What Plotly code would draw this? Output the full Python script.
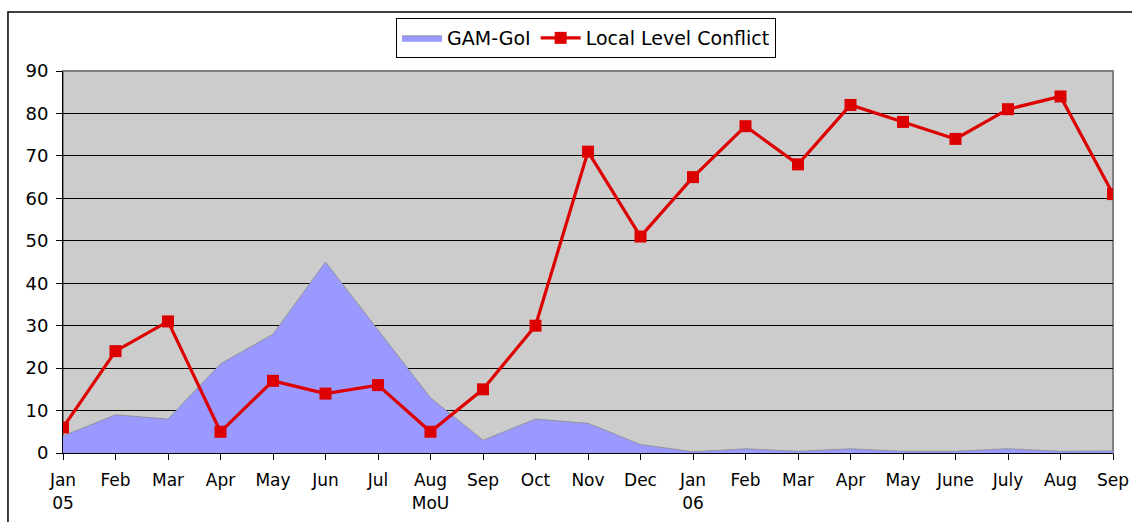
import plotly.graph_objects as go

months = ["Jan<br>05", "Feb", "Mar", "Apr", "May", "Jun", "Jul", "Aug<br>MoU", "Sep", "Oct",
          "Nov", "Dec", "Jan<br>06", "Feb", "Mar", "Apr", "May", "June", "July", "Aug", "Sep"]
gam_goi = [4, 9, 8, 21, 28, 45, 29, 13, 3, 8, 7, 2, 0.3, 1, 0.4, 1, 0.4, 0.4, 1, 0.4, 0.5]
local_conflict = [6, 24, 31, 5, 17, 14, 16, 5, 15, 30, 71, 51, 65, 77, 68, 82, 78, 74, 81, 84, 61]
y_ticks = [0, 10, 20, 30, 40, 50, 60, 70, 80, 90]

x = list(range(len(months)))
font = "DejaVu Sans, Verdana, sans-serif"

fig = go.Figure()
fig.add_trace(go.Scatter(
    x=x, y=gam_goi, name="GAM-GoI", mode="lines", fill="tozeroy",
    line=dict(color="#8c8c8c", width=0.8), fillcolor="#9999FF",
))
fig.add_trace(go.Scatter(
    x=x, y=local_conflict, name="Local Level Conflict", mode="lines+markers",
    line=dict(color="#DD0000", width=3.2),
    marker=dict(symbol="square", size=12, color="#DD0000"),
))

fig.update_layout(
    width=1132, height=522,
    margin=dict(l=63, r=19, t=71, b=69, autoexpand=False),
    paper_bgcolor="white", plot_bgcolor="#CCCCCC",
    font=dict(family=font, size=18, color="black"),
    showlegend=True,
    legend=dict(orientation="h", xref="container", yref="container",
                x=0.5177, y=0.9655, xanchor="center", yanchor="top",
                bgcolor="white", bordercolor="black", borderwidth=1,
                font=dict(size=19), itemwidth=40, tracegroupgap=0),
    xaxis=dict(range=[0, 20], tickmode="array", tickvals=x, ticktext=months,
               showgrid=False, zeroline=False, ticks="outside", ticklen=6,
               tickcolor="black", showline=True, linecolor="black", linewidth=1,
               tickfont=dict(size=17), ticklabelstandoff=6, automargin=False),
    yaxis=dict(range=[0, 90], tickmode="array", tickvals=y_ticks,
               showgrid=True, gridcolor="black", gridwidth=1, zeroline=False,
               ticks="outside", ticklen=6, tickcolor="black",
               showline=True, linecolor="black", linewidth=1,
               tickfont=dict(size=18), ticklabelstandoff=4, automargin=False),
    shapes=[
        dict(type="rect", xref="paper", yref="paper", x0=0, x1=1, y0=0, y1=1,
             line=dict(color="#808080", width=2), layer="below"),
        dict(type="rect", xref="paper", yref="paper", x0=-0.0524, x1=1.2, y0=-0.5, y1=1.1545,
             line=dict(color="black", width=1.5), layer="below"),
    ],
)

fig.write_html("out.html", config={"displayModeBar": False},
               post_script="document.body.style.margin='0';")
